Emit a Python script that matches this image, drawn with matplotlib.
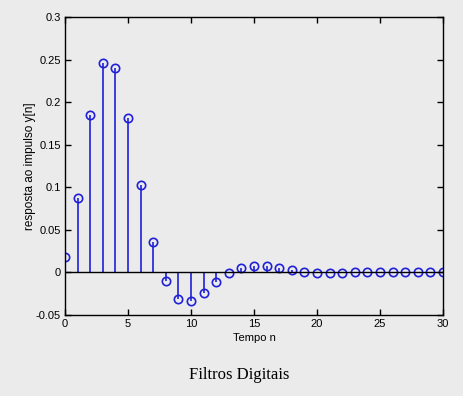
import matplotlib
matplotlib.use("Agg")
import matplotlib.pyplot as plt
import numpy as np

n = list(range(31))
y = [0.018, 0.087, 0.185, 0.246, 0.240, 0.181, 0.103, 0.036, -0.010, -0.031,
     -0.033, -0.024, -0.011, -0.001, 0.0055, 0.0075, 0.007, 0.005, 0.0025, 0.0,
     -0.001, -0.001, -0.001, 0.0, 0.0, 0.0, 0.0005, 0.0005, 0.0, 0.0, 0.0]
xticks = [0, 5, 10, 15, 20, 25, 30]
yticks = [-0.05, 0, 0.05, 0.1, 0.15, 0.2, 0.25, 0.3]
ytick_labels = ["-0.05", "0", "0.05", "0.1", "0.15", "0.2", "0.25", "0.3"]

bg = "#ebebeb"
plt.rcParams['font.family'] = ['Liberation Sans', 'DejaVu Sans']
fig = plt.figure(figsize=(4.63, 3.96), dpi=100, facecolor=bg)
ax = fig.add_axes([0.1404, 0.2045, 0.8164, 0.7525], facecolor=bg)

ml, sl, bl = ax.stem(n, y, basefmt='k-')
plt.setp(sl, color='#2020d8', linewidth=1.2)
plt.setp(ml, marker='o', markerfacecolor='none', markeredgecolor='#2020d8',
         markersize=6, markeredgewidth=1.2)
plt.setp(bl, color='black', linewidth=1.0)

ax.set_xlim(0, 30)
ax.set_ylim(-0.05, 0.3)
ax.set_xticks(xticks)
ax.set_yticks(yticks)
ax.set_yticklabels(ytick_labels)
ax.tick_params(direction='in', top=True, right=True, labelsize=8, length=4, width=1, pad=3)
for s in ax.spines.values():
    s.set_linewidth(1.0)
ax.set_xlabel("Tempo n", fontsize=8, labelpad=2.5)
ax.set_ylabel("resposta ao impulso y[n]", fontsize=8.5, labelpad=0)

fig.text(0.517, 0.053, "Filtros Digitais", ha='center', va='center',
         fontsize=12, family=['Liberation Serif', 'DejaVu Serif'])

fig.savefig("out.png", dpi=100, facecolor=bg)
